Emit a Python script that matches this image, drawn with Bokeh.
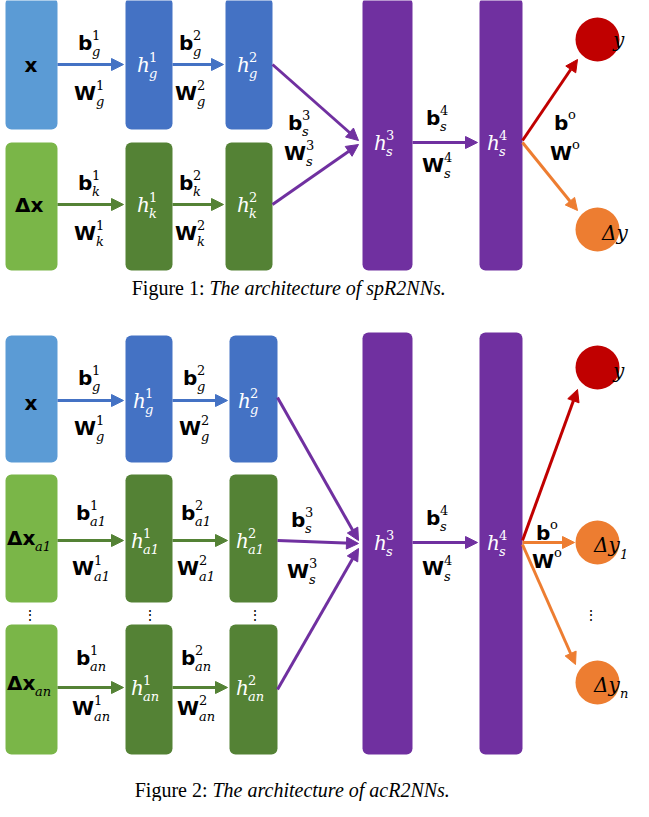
from bokeh.plotting import figure
from bokeh.models import Arrow, NormalHead, Range1d
from bokeh.core.properties import value
from bokeh.embed import file_html
from bokeh.resources import INLINE

LBLUE, BLUE = "#5B9BD5", "#4472C4"
LGREEN, DGREEN = "#7AB648", "#548235"
PURPLE, RED, ORANGE = "#7030A0", "#C00000", "#ED7D31"

# boxes: left, right, top, bottom (picture px), colour
box_l = [13, 133, 233, 13, 133, 233, 370, 487,
         13, 133, 237, 13, 133, 237, 13, 133, 237, 370, 487]
box_r = [65, 180, 280, 65, 180, 280, 420, 530,
         65, 180, 285, 65, 180, 285, 65, 180, 285, 420, 530]
box_t = [5, 5, 5, 150, 150, 150, 5, 5,
         343, 343, 343, 482, 482, 482, 632, 632, 632, 340, 340]
box_b = [137, 137, 137, 278, 278, 278, 278, 278,
         470, 470, 470, 610, 610, 610, 762, 762, 762, 762, 762]
box_c = [LBLUE, BLUE, BLUE, LGREEN, DGREEN, DGREEN, PURPLE, PURPLE,
         LBLUE, BLUE, BLUE, LGREEN, DGREEN, DGREEN, LGREEN, DGREEN, DGREEN, PURPLE, PURPLE]

# output nodes
node_x = [605, 605, 605, 605, 605]
node_y = [47, 237, 375, 550, 690]
node_c = [RED, ORANGE, RED, ORANGE, ORANGE]

# arrows: x0, y0, x1, y1, colour
arr = [
    (65, 72, 131, 72, BLUE), (180, 72, 231, 72, BLUE),
    (65, 212, 131, 212, DGREEN), (180, 212, 231, 212, DGREEN),
    (280, 72, 366, 148, PURPLE), (280, 212, 366, 152, PURPLE),
    (420, 150, 485, 150, PURPLE),
    (530, 148, 585, 67, RED), (530, 150, 585, 218, ORANGE),
    (65, 408, 131, 408, BLUE), (180, 408, 235, 408, BLUE),
    (65, 548, 131, 548, DGREEN), (180, 548, 235, 548, DGREEN),
    (65, 695, 131, 695, DGREEN), (180, 695, 235, 695, DGREEN),
    (285, 405, 366, 548, PURPLE), (285, 548, 366, 551, PURPLE), (285, 697, 366, 556, PURPLE),
    (420, 550, 485, 550, PURPLE),
    (530, 548, 585, 397, RED), (530, 550, 582, 550, ORANGE), (530, 552, 583, 672, ORANGE),
]

# labels: x centre, y, base, sup, sub, kind, colour
labels = [
    (38, 72, "x", "", "", "b", "black"), (36, 212, "Δx", "", "", "b", "black"),
    (92, 50, "b", "1", "g", "b", "black"), (92, 100, "W", "1", "g", "b", "black"),
    (193, 50, "b", "2", "g", "b", "black"), (193, 100, "W", "2", "g", "b", "black"),
    (92, 190, "b", "1", "k", "b", "black"), (92, 240, "W", "1", "k", "b", "black"),
    (193, 190, "b", "2", "k", "b", "black"), (193, 240, "W", "2", "k", "b", "black"),
    (150, 72, "h", "1", "g", "i", "white"), (250, 72, "h", "2", "g", "i", "white"),
    (150, 212, "h", "1", "k", "i", "white"), (250, 212, "h", "2", "k", "i", "white"),
    (302, 130, "b", "3", "s", "b", "black"), (302, 160, "W", "3", "s", "b", "black"),
    (387, 150, "h", "3", "s", "i", "white"), (500, 150, "h", "4", "s", "i", "white"),
    (440, 125, "b", "4", "s", "b", "black"), (440, 172, "W", "4", "s", "b", "black"),
    (568, 130, "b", "o", "", "b", "black"), (568, 160, "W", "o", "", "b", "black"),
    (626, 47, "y", "", "", "i", "black"), (622, 240, "Δy", "", "", "i", "black"),
    (38, 410, "x", "", "", "b", "black"), (28, 545, "Δx", "", "a1", "b", "black"),
    (28, 690, "Δx", "", "an", "b", "black"),
    (92, 385, "b", "1", "g", "b", "black"), (92, 435, "W", "1", "g", "b", "black"),
    (197, 385, "b", "2", "g", "b", "black"), (197, 435, "W", "2", "g", "b", "black"),
    (90, 520, "b", "1", "a1", "b", "black"), (90, 575, "W", "1", "a1", "b", "black"),
    (195, 520, "b", "2", "a1", "b", "black"), (195, 575, "W", "2", "a1", "b", "black"),
    (90, 665, "b", "1", "an", "b", "black"), (90, 715, "W", "1", "an", "b", "black"),
    (195, 665, "b", "2", "an", "b", "black"), (195, 715, "W", "2", "an", "b", "black"),
    (146, 408, "h", "1", "g", "i", "white"), (251, 408, "h", "2", "g", "i", "white"),
    (144, 548, "h", "1", "a1", "i", "white"), (249, 548, "h", "2", "a1", "i", "white"),
    (144, 695, "h", "1", "an", "i", "white"), (249, 695, "h", "2", "an", "i", "white"),
    (305, 527, "b", "3", "s", "b", "black"), (305, 578, "W", "3", "s", "b", "black"),
    (387, 550, "h", "3", "s", "i", "white"), (500, 550, "h", "4", "s", "i", "white"),
    (440, 525, "b", "4", "s", "b", "black"), (440, 575, "W", "4", "s", "b", "black"),
    (550, 540, "b", "o", "", "b", "black"), (550, 568, "W", "o", "", "b", "black"),
    (626, 378, "y", "", "", "i", "black"), (614, 552, "Δy", "", "1", "i", "black"),
    (614, 692, "Δy", "", "n", "i", "black"),
]

dots_x = [37, 157, 262, 598]
dots_y = [622, 622, 622, 622]

captions = [(217, 295, "Figure 1: ", "The architecture of spR2NNs."),
            (220, 797, "Figure 2: ", "The architecture of acR2NNs.")]

CHAR_W = {("b", "W"): 21, ("b", "b"): 13, ("b", "x"): 12, ("b", "Δ"): 15,
          ("i", "h"): 11, ("i", "y"): 11, ("i", "Δ"): 14}

p = figure(width=633, height=801, output_backend="svg", toolbar_location=None,
           x_range=Range1d(8, 641), y_range=Range1d(809, 8), min_border=0)
p.axis.visible = False
p.grid.visible = False
p.outline_line_color = None

p.quad(left=box_l, right=box_r, top=box_t, bottom=box_b, fill_color=box_c,
       line_color=None, border_radius=6)
p.circle(x=node_x, y=node_y, radius=22, fill_color=node_c, line_color=None)

for x0, y0, x1, y1, c in arr:
    p.add_layout(Arrow(x_start=x0, y_start=y0, x_end=x1, y_end=y1, line_color=c, line_width=3,
                       end=NormalHead(size=12, fill_color=c, line_color=c)))

for x, y, base, sup, sub, kind, c in labels:
    w = sum(CHAR_W.get((kind, ch), 11) for ch in base)
    style = "bold" if kind == "b" else "italic"
    p.text(x=[x - w / 2], y=[y], text=[base], text_color=c,
           text_font=value("DejaVu Sans" if kind == "b" else "DejaVu Serif"),
           text_font_size="20px", text_font_style=style, text_align="left", text_baseline="middle")
    if sup:
        p.text(x=[x + w / 2 + 1], y=[y - 8], text=[sup], text_color=c, text_font=value("DejaVu Serif"),
               text_font_size="13px", text_align="left", text_baseline="middle")
    if sub:
        p.text(x=[x + w / 2 + 1], y=[y + 9], text=[sub], text_color=c, text_font=value("DejaVu Serif"),
               text_font_size="13px", text_font_style="italic", text_align="left", text_baseline="middle")

p.text(x=dots_x, y=dots_y, text=["⋮"] * 4, text_font_size="14px", text_align="center",
       text_baseline="middle", text_color="black")

for x, y, a, b in captions:
    p.text(x=[x], y=[y], text=[a], text_font=value("Liberation Serif"), text_font_size="20px",
           text_align="right", text_baseline="middle")
    p.text(x=[x], y=[y], text=[b], text_font=value("Liberation Serif"), text_font_size="20px",
           text_font_style="italic", text_align="left", text_baseline="middle")

open("out.html", "w").write(file_html(p, INLINE))
